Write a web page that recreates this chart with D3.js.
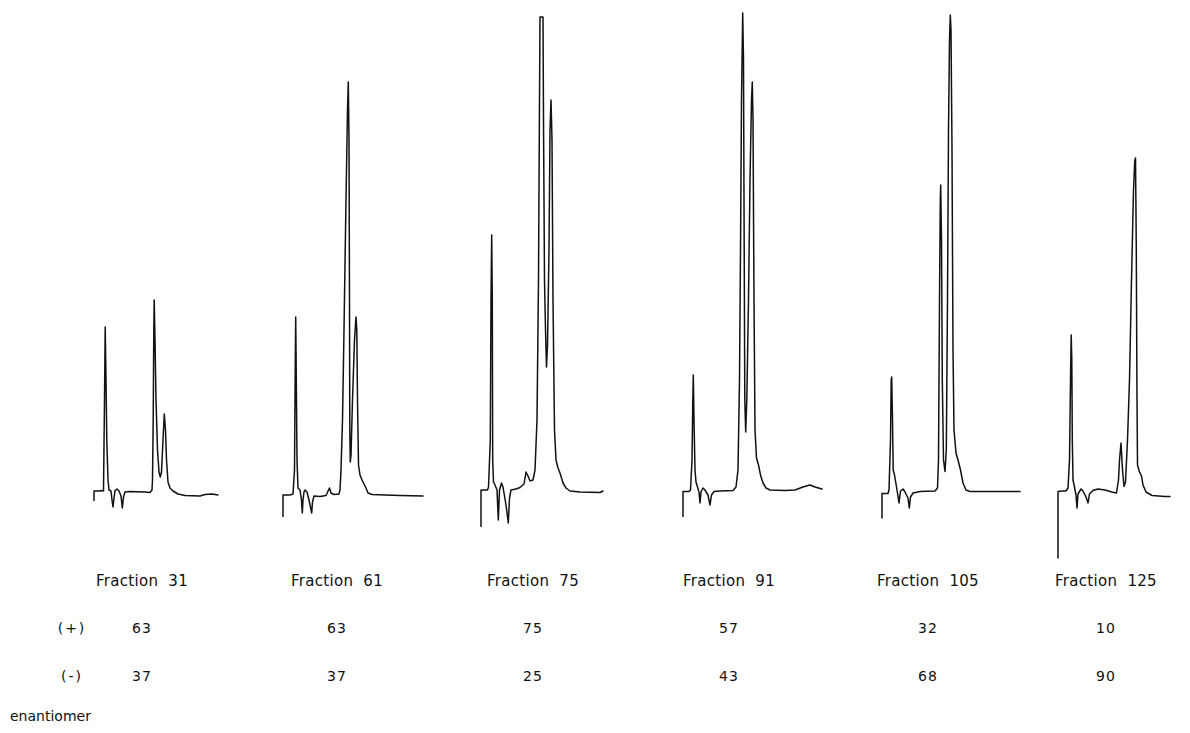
<!DOCTYPE html>
<html>
<head>
<meta charset="utf-8">
<script src="https://cdn.jsdelivr.net/npm/d3@7"></script>
<style>
  html, body { margin: 0; padding: 0; background: #fff; }
  svg text { font-family: "DejaVu Sans", sans-serif; fill: #111; }
</style>
</head>
<body>
<svg id="chart" width="1190" height="733"></svg>
<script>
// ---- Data: chromatogram traces, [retention time (min), detector signal (mV)] ----
const fractions = [31, 61, 75, 91, 105, 125];
const plusEnantiomer = [63, 63, 75, 57, 32, 10];
const minusEnantiomer = [37, 37, 25, 43, 68, 90];
const rowLabels = ["(+)", "(-)"];
const footLabel = "enantiomer";

const trace31 = [[0,-1.7],[0,0.2],[0.6,0.2],[0.7,0.3],[0.95,0.2],[1.05,18.4],[1.12,33],[1.2,22.4],[1.28,10.4],[1.4,2.4],[1.5,0.4],[1.7,0.2],[1.8,-1.6],[1.9,-3],[2.0,-1.2],[2.1,0.3],[2.3,0.6],[2.5,0.2],[2.7,-0.8],[2.83,-3.2],[2.95,-1],[3.1,0],[3.6,0.1],[5.1,0],[5.6,-0.1],[5.8,0.4],[5.85,2.4],[5.92,14.4],[5.98,32.4],[6.02,38.4],[6.1,30.4],[6.2,18.4],[6.35,8.4],[6.5,4],[6.63,3],[6.75,4],[6.9,10.4],[7.03,15.6],[7.15,12.4],[7.25,6.4],[7.4,2],[7.6,0.8],[7.9,0.2],[8.4,-0.4],[9.1,-0.7],[10.6,-0.8],[11.1,-0.5],[11.8,-0.4],[12.4,-0.6]];

const trace61 = [[0,-4.9],[0,-0.6],[0.7,-0.6],[1.0,-0.4],[1.15,4.4],[1.23,26.4],[1.27,35],[1.33,22.4],[1.4,6.4],[1.5,0.8],[1.7,0.4],[1.85,-1.6],[1.93,-4.2],[2.0,-1.6],[2.1,0],[2.2,0.4],[2.4,0],[2.6,-1.6],[2.87,-4.2],[2.95,-2],[3.1,-0.8],[3.7,-0.9],[4.3,-0.7],[4.55,0.4],[4.65,0.8],[4.8,-0.2],[5.1,-0.5],[5.6,-0.4],[5.7,0.4],[5.8,4.4],[5.95,14.4],[6.1,32.4],[6.3,58.4],[6.45,76.4],[6.53,82],[6.6,70.4],[6.65,38.4],[6.68,12.4],[6.73,6],[6.8,7.4],[6.95,18.4],[7.15,30.4],[7.3,35],[7.38,32.4],[7.45,18.4],[7.55,5.4],[7.7,3.4],[7.9,2.4],[8.1,1.6],[8.3,0.8],[8.5,-0.2],[8.9,-0.5],[10.2,-0.6],[11.7,-0.7],[14.0,-0.8]];

const trace75 = [[0,-6.9],[0,0.4],[0.65,0.4],[0.75,1],[0.93,10.4],[1.0,38.4],[1.07,51.4],[1.13,38.4],[1.17,6.4],[1.25,2],[1.4,1.4],[1.6,0.4],[1.73,-5.6],[1.85,0.4],[2.05,1.8],[2.2,1],[2.5,-2.6],[2.73,-6.2],[2.85,-1.2],[3.0,0.4],[3.5,0.6],[3.9,0.9],[4.3,1.6],[4.5,4],[4.7,3.2],[4.9,2.2],[5.2,2.4],[5.4,4.4],[5.6,14.4],[5.75,42.4],[5.85,78.4],[5.9,95],[6.2,95],[6.25,74.4],[6.35,42.4],[6.45,32.4],[6.55,25],[6.65,29.4],[6.8,48.4],[6.9,72.4],[7.0,78.4],[7.1,70.4],[7.2,38.4],[7.35,12.4],[7.5,6.4],[7.7,4.8],[7.9,3.8],[8.2,1.8],[8.5,0.8],[8.9,0.2],[9.9,0],[11.9,-0.1],[12.2,0.2]];

const trace91 = [[0,-4.9],[0,0.1],[0.6,0.1],[0.75,0.4],[0.9,6.4],[0.98,18.4],[1.03,23.4],[1.1,14.4],[1.2,4.4],[1.3,2],[1.45,1],[1.6,0],[1.7,-2.2],[1.8,0],[2.0,0.8],[2.2,0.4],[2.5,-0.6],[2.7,-2.6],[2.85,-0.6],[3.1,0.1],[3.7,0.2],[5.0,0.3],[5.3,1],[5.5,4.4],[5.65,22.4],[5.75,48.4],[5.85,78.4],[5.97,95.8],[6.05,86.4],[6.1,58.4],[6.18,18.4],[6.27,12],[6.38,18.4],[6.55,38.4],[6.7,62.4],[6.85,78.4],[6.93,82],[7.0,74.4],[7.1,38.4],[7.2,12.4],[7.35,6.8],[7.55,5.4],[7.75,3.4],[8.0,1.8],[8.3,0.8],[8.7,0.4],[10.2,0.3],[11.2,0.4],[12.0,1],[12.7,1.4],[13.2,1],[13.9,0.6]];

const trace105 = [[0,-5.2],[0,-0.3],[0.6,-0.3],[0.7,0.4],[0.85,10.4],[0.92,22.4],[0.97,23],[1.05,14.4],[1.12,4.4],[1.25,3.4],[1.5,0.4],[1.7,-2.2],[1.85,0.2],[2.1,0.6],[2.3,0],[2.6,-1.2],[2.73,-3.2],[2.85,-1],[3.1,-0.2],[3.8,0.1],[5.3,0.2],[5.55,0.8],[5.65,6.4],[5.75,38.4],[5.83,58.4],[5.87,61.4],[5.95,50.4],[6.03,22.4],[6.15,6.4],[6.3,4.1],[6.43,8.4],[6.55,38.4],[6.65,72.4],[6.75,90.4],[6.83,95.4],[6.9,92.4],[7.0,68.4],[7.1,28.4],[7.2,12.4],[7.4,7.8],[7.6,6.4],[7.85,4.4],[8.1,1.8],[8.4,0.4],[8.8,0.1],[11.8,0.1],[13.8,0.1]];

const trace125 = [[0,-13.2],[0,0.1],[0.4,0.2],[0.8,0.2],[1.0,0.8],[1.15,6.4],[1.25,22.4],[1.32,31.4],[1.38,26.4],[1.43,10.4],[1.5,2.4],[1.65,1],[1.8,-0.6],[1.9,-3.2],[2.0,-0.4],[2.3,0.6],[2.5,0.2],[2.8,-1],[3.0,-2.2],[3.15,-0.4],[3.5,0.3],[4.0,0.6],[4.7,0.4],[5.4,0],[5.85,-0.2],[6.05,2.4],[6.15,6.4],[6.3,9.8],[6.45,4.4],[6.6,1.1],[6.75,2],[6.95,10.4],[7.15,22.4],[7.35,42.4],[7.55,60.4],[7.68,66.4],[7.75,66.8],[7.83,48.4],[7.9,18.4],[7.95,5.4],[8.15,4],[8.35,3.2],[8.5,1.4],[8.8,0],[9.4,-0.7],[10.7,-0.9],[11.2,-0.9]];

const traces = [trace31, trace61, trace75, trace91, trace105, trace125];

// ---- Layout (positions, not data) ----
const panelLeft = [94, 283, 481, 683, 882, 1058];
const columnCenter = [142, 337, 533, 729, 928, 1106];
const pxPerMin = 10;

const svg = d3.select("#chart");

const y = d3.scaleLinear().domain([-14, 96]).range([562, 12]);

const line = d3.line();

traces.forEach((tr, i) => {
  const tMax = d3.max(tr, d => d[0]);
  const x = d3.scaleLinear().domain([0, tMax]).range([panelLeft[i], panelLeft[i] + tMax * pxPerMin]);
  svg.append("path")
    .attr("d", line.x(d => x(d[0])).y(d => y(d[1]))(tr))
    .attr("fill", "none")
    .attr("stroke", "#111")
    .attr("stroke-width", 1.5)
    .attr("stroke-linejoin", "round")
    .attr("stroke-linecap", "round");
});

const txt = (x, yy, s, size, anchor, spacing) => svg.append("text")
  .attr("x", x).attr("y", yy)
  .attr("text-anchor", anchor || "middle")
  .attr("font-size", size)
  .attr("letter-spacing", spacing || 0)
  .text(s);

fractions.forEach((f, i) => txt(columnCenter[i], 586, "Fraction\u00a0 " + f, 15, "middle", "0.3px"));
plusEnantiomer.forEach((v, i) => txt(columnCenter[i], 633, String(v), 14, "middle", "1px"));
minusEnantiomer.forEach((v, i) => txt(columnCenter[i], 681, String(v), 14, "middle", "1px"));
txt(72, 633, rowLabels[0], 14, "middle", "2px");
txt(72, 681, rowLabels[1], 14, "middle", "2px");
txt(10, 721, footLabel, 14, "start", 0);
</script>
</body>
</html>
